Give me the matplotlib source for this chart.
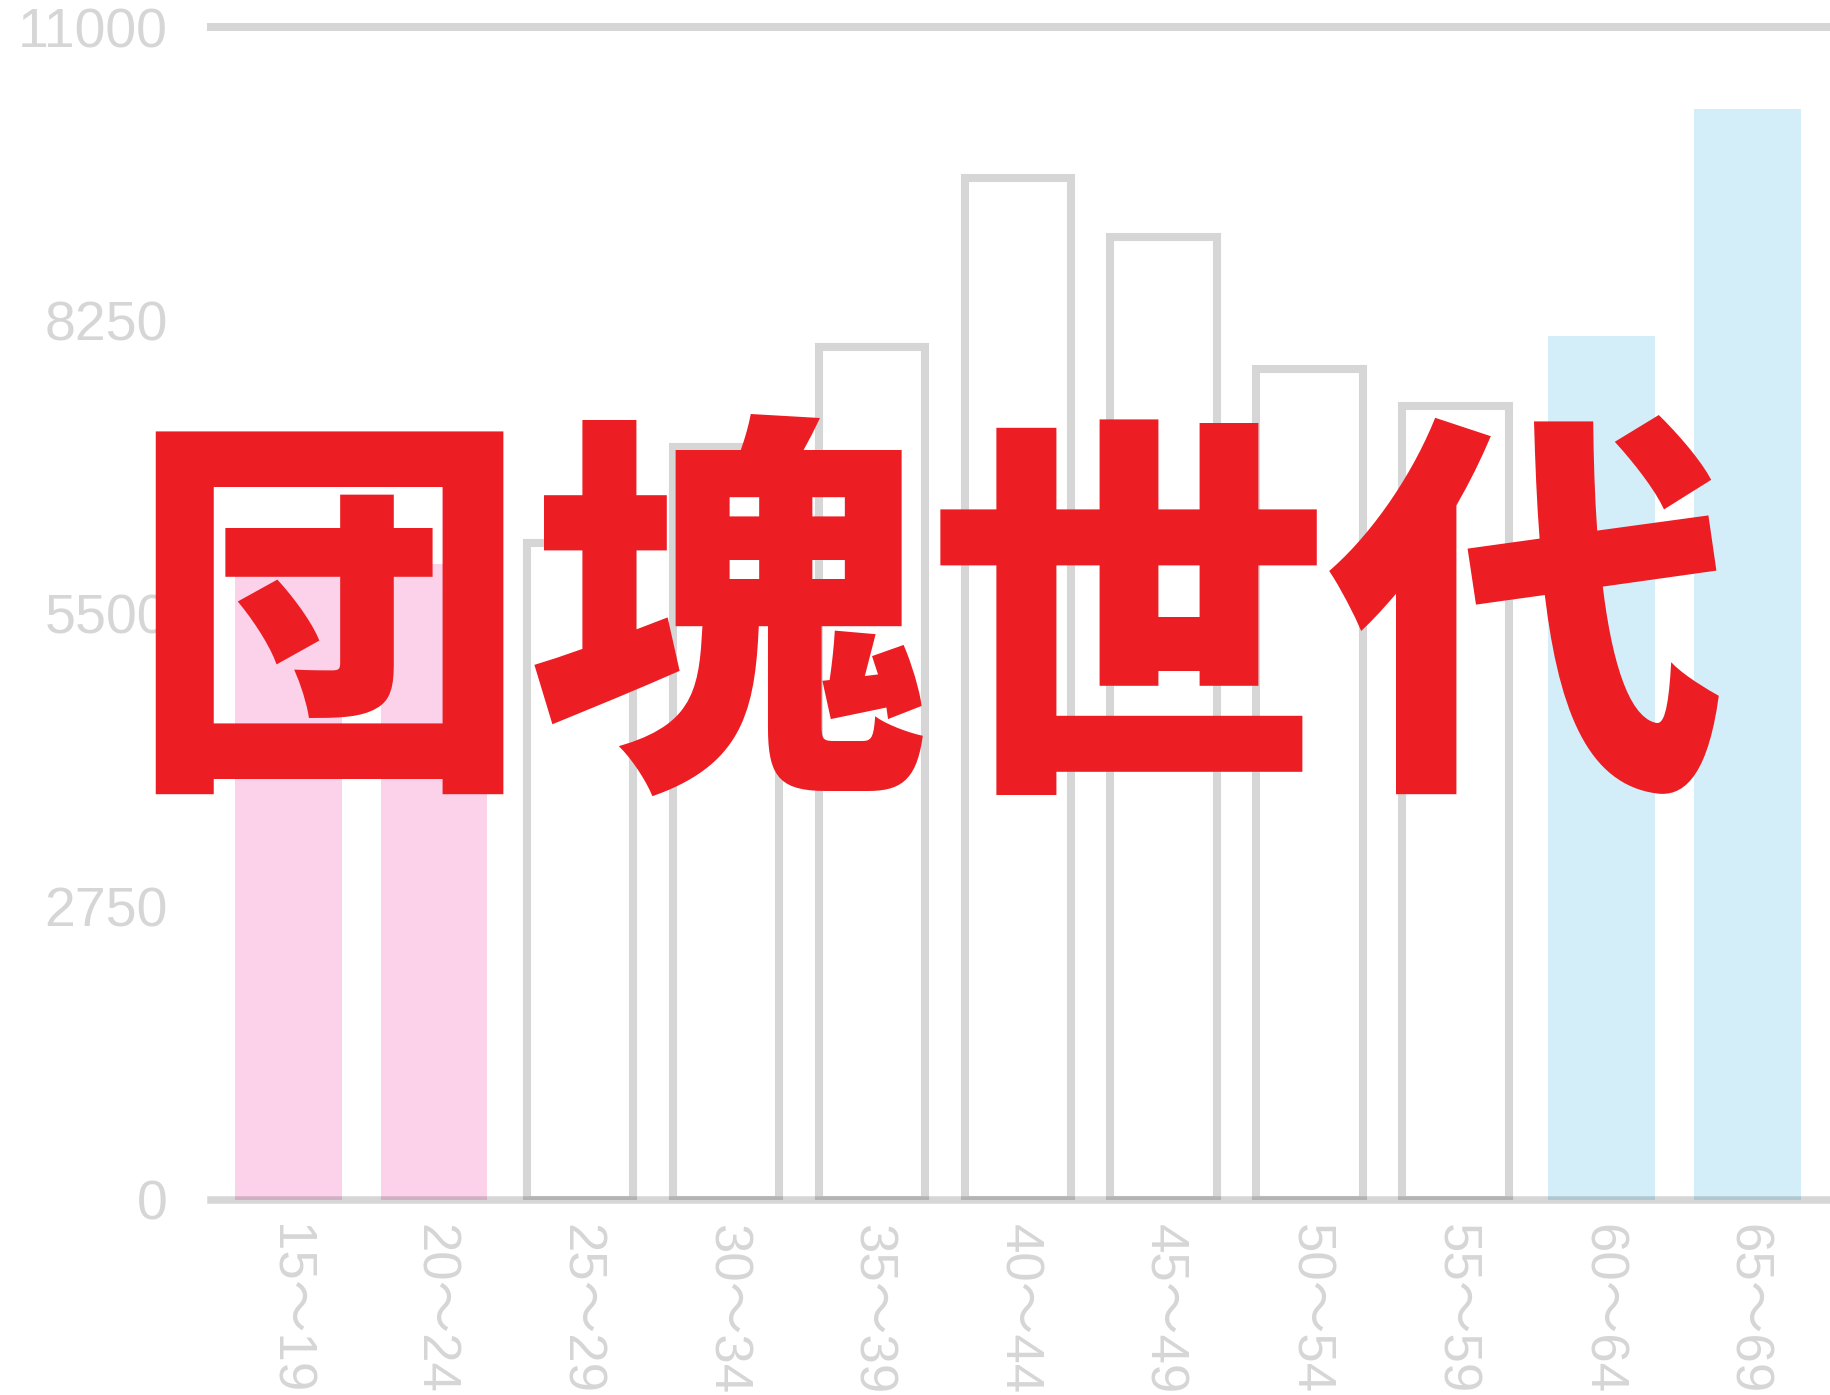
import numpy as np
import matplotlib
matplotlib.use("Agg")
import matplotlib.pyplot as plt

# age groups and values
ages = ["15～19", "20～24", "25～29", "30～34", "35～39", "40～44",
        "45～49", "50～54", "55～59", "60～64", "65～69"]
values = [5950, 5960, 6160, 7060, 8000, 9580, 9030, 7790, 7450, 8100, 10230]
groups = ["young", "young", "mid", "mid", "mid", "mid", "mid", "mid", "mid", "old", "old"]
yticks = [0, 2750, 5500, 8250, 11000]
title = "団塊世代"

plt.rcParams['font.family'] = ['Liberation Sans', 'Noto Sans CJK JP']

W, H = 1831, 1395
fig = plt.figure(figsize=(W / 100, H / 100), dpi=100)
ax = fig.add_axes([211 / W, 1 - 1200 / H, (1829 - 211) / W, (1200 - 27) / H])

x = np.arange(len(ages))
for i in range(len(ages)):
    if groups[i] == "young":
        ax.bar(x[i], values[i], width=0.73, color="#fbd2e9", zorder=2)
    elif groups[i] == "old":
        ax.bar(x[i], values[i], width=0.73, color="#d3eef9", zorder=2)
    else:
        ax.bar(x[i], values[i], width=0.73, facecolor="none",
               edgecolor="#d6d6d6", linewidth=5.8, zorder=2)

# only the bottom and top lines, drawn over the bars
ax.axhline(0, color="black", alpha=0.16, linewidth=5.4, zorder=3, clip_on=False)
ax.axhline(11000, color="black", alpha=0.16, linewidth=5.8, zorder=3, clip_on=False)

ax.set_xlim(-0.53, 10.56)
ax.set_ylim(0, 11000)
ax.set_yticks(yticks)
ax.set_yticklabels([str(t) for t in yticks], fontsize=40, color="#d6d6d6")
ax.set_xticks(x)
ax.set_xticklabels(ages, fontsize=38, color="#d6d6d6", rotation=-90)
ax.tick_params(axis="y", length=0, pad=31)
ax.tick_params(axis="x", length=0, pad=17)
for s in ax.spines.values():
    s.set_visible(False)

fig.text(0.507, 1 - 639 / H, title, ha="center", va="center", fontsize=288,
         color="#ed1d24", fontweight="black", family="Noto Sans CJK JP", zorder=10)

fig.savefig("out.png", dpi=100)
